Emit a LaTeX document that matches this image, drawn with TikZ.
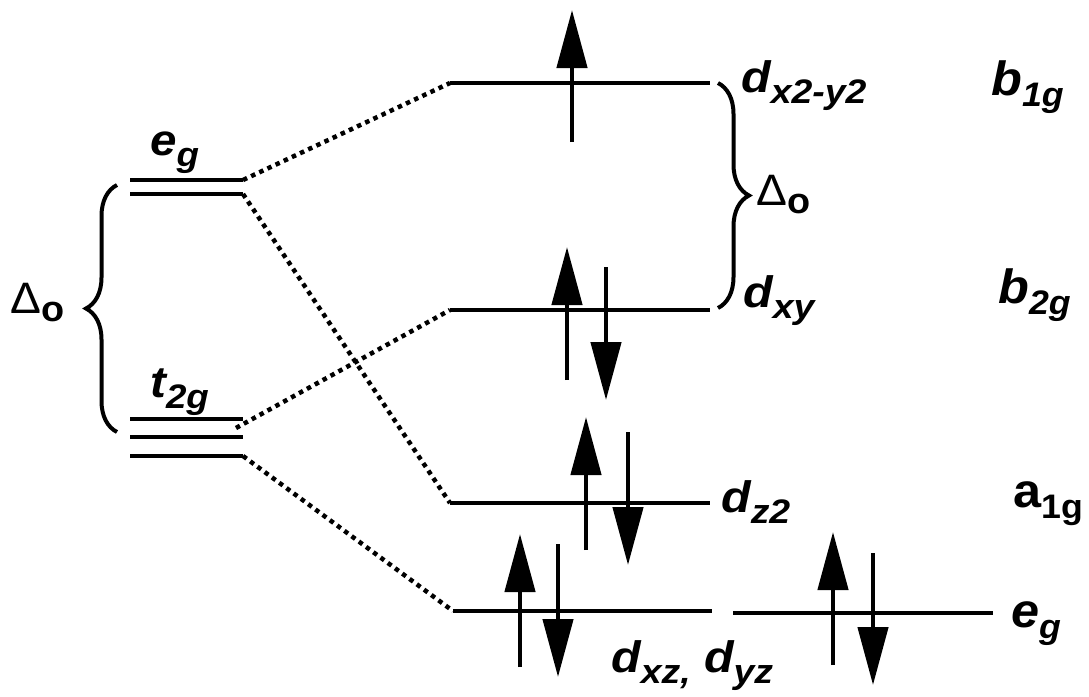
\documentclass[tikz,border=0pt]{standalone}
\usepackage{fontspec}
\usepackage{graphicx}
\setmainfont{Liberation Sans}
\usetikzlibrary{arrows.meta,decorations.pathreplacing}
\newcommand\Sb[1]{\raisebox{-11pt}{\fontsize{34}{34}\selectfont #1}}
\newcommand\Wd[1]{\scalebox{1.1}[1]{#1}}
\newcommand\Wl[1]{\scalebox{1.08}[1]{#1}}
\newcommand\Wr[1]{\scalebox{1.05}[1]{#1}}
\newcommand\Dlt{{\mdseries\fontsize{44}{44}\selectfont Δ}\raisebox{-8pt}{\fontsize{36}{36}\selectfont\bfseries o}}
\tikzset{
  lvl/.style={line width=4.8pt, line cap=butt},
  conn/.style={line width=4.5pt, dash pattern=on 4.5pt off 4.5pt},
  spin/.style={line width=4.5pt, -{Triangle[length=58pt,width=30pt]}},
  brc/.style={line width=4pt, decorate, decoration={brace, amplitude=31pt}},
  lab/.style={anchor=base west, inner sep=0pt, font=\fontsize{44}{44}\selectfont\bfseries\itshape},
  labr/.style={anchor=base west, inner sep=0pt, font=\fontsize{48}{48}\selectfont\bfseries\itshape},
  labu/.style={anchor=base west, inner sep=0pt, font=\fontsize{48}{48}\selectfont\bfseries},
}
\begin{document}
\begin{tikzpicture}[x=1pt,y=-1pt]
\useasboundingbox (0,0) rectangle (1089,696);
% left levels
\coordinate (eaL) at (130,180); \coordinate (eaR) at (243,180);
\coordinate (ebL) at (130,194); \coordinate (ebR) at (243,194);
\coordinate (taL) at (130,419); \coordinate (taR) at (243,419);
\coordinate (tbL) at (130,437); \coordinate (tbR) at (243,437);
\coordinate (tcL) at (130,456); \coordinate (tcR) at (243,456);
\coordinate (tab) at (236,428);
% right levels
\coordinate (b1L) at (450,83);  \coordinate (b1R) at (710,83);
\coordinate (b2L) at (450,310); \coordinate (b2R) at (710,310);
\coordinate (a1L) at (450,503); \coordinate (a1R) at (710,503);
\coordinate (e1L) at (453,611); \coordinate (e1R) at (712,611);
\coordinate (e2L) at (733,613); \coordinate (e2R) at (993,613);

\foreach \p in {ea,eb,ta,tb,tc,b1,b2,a1,e1,e2}
  \draw[lvl] (\p L) -- (\p R);

% dotted correlation lines
\draw[conn] (eaR) -- (b1L);
\draw[conn] (ebR) -- (a1L);
\draw[conn] (tab) -- (b2L);
\draw[conn] (tcR) -- (e1L);

% braces
\coordinate (lbT) at (117,185); \coordinate (lbB) at (117,432);
\draw[brc] (lbB) -- (lbT);
\coordinate (rbT) at (718,83); \coordinate (rbB) at (718,308);
\draw[brc] (rbT) -- (rbB);

% electrons
\coordinate (s1a) at (572,142); \coordinate (s1b) at (572,10);
\draw[spin] (s1a) -- (s1b);
\coordinate (s2a) at (567,380); \coordinate (s2b) at (567,247);
\coordinate (s3a) at (606,267); \coordinate (s3b) at (606,400);
\draw[spin] (s2a) -- (s2b); \draw[spin] (s3a) -- (s3b);
\coordinate (s4a) at (586,550); \coordinate (s4b) at (586,417);
\coordinate (s5a) at (628,432); \coordinate (s5b) at (628,565);
\draw[spin] (s4a) -- (s4b); \draw[spin] (s5a) -- (s5b);
\coordinate (s6a) at (520,667); \coordinate (s6b) at (520,534);
\coordinate (s7a) at (558,544); \coordinate (s7b) at (558,677);
\draw[spin] (s6a) -- (s6b); \draw[spin] (s7a) -- (s7b);
\coordinate (s8a) at (833,665); \coordinate (s8b) at (833,532);
\coordinate (s9a) at (873,553); \coordinate (s9b) at (873,685);
\draw[spin] (s8a) -- (s8b); \draw[spin] (s9a) -- (s9b);

% labels
\node[lab] (Leg) at (150,155) {\Wl{e\Sb{g}}};
\node[lab] (Lt2g) at (150,397) {\Wl{t\Sb{2g}}};
\node[labu] (LD) at (10,313) {\Wr{\Dlt}};
\node[lab] (Rdx) at (741,92) {\Wd{d\Sb{x2-y2}}};
\node[labu] (RD) at (756,205) {\Wr{\Dlt}};
\node[lab] (Rdxy) at (743,307) {\Wd{d\Sb{xy}}};
\node[lab] (Rdz) at (721,512) {\Wd{d\Sb{z2}}};
\node[lab] (Rdxz) at (611,672) {\Wd{d\Sb{xz,} d\Sb{yz}}};
\node[labr] (Sb1) at (991,95) {\Wr{b\Sb{1g}}};
\node[labr] (Sb2) at (998,303) {\Wr{b\Sb{2g}}};
\node[labu] (Sa1) at (1013,507) {\Wr{a\Sb{1g}}};
\node[labr] (Seg) at (1011,627) {\Wr{e\Sb{g}}};
\end{tikzpicture}
\end{document}
